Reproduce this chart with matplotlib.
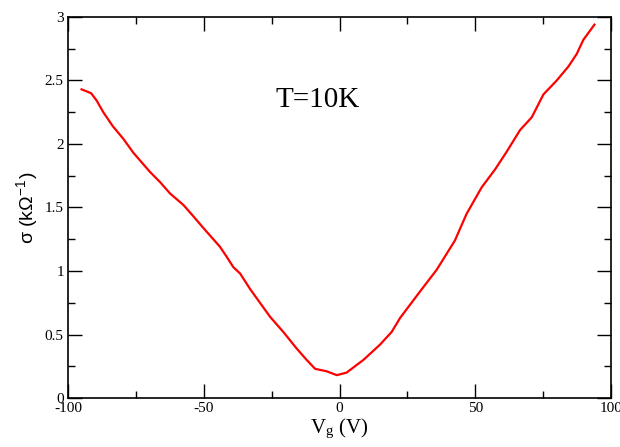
import numpy as np
import matplotlib
matplotlib.use("Agg")
import matplotlib.pyplot as plt
from matplotlib.ticker import MultipleLocator, FormatStrFormatter

# gate voltage (V) and conductivity (kOhm^-1)
VG = [-95, -91.5, -89.4, -87, -83.5, -79.6, -75.9, -69.8, -66.1, -62.4,
      -57.5, -53.8, -50.2, -44, -41.5, -39.1, -36.6, -33, -29.3, -25.6,
      -20.7, -15.8, -12.1, -9.0, -4.7, -1.0, 2.6, 8.8, 14.9, 19.2,
      22.3, 29.7, 35.8, 42.5, 46.8, 52.4, 57.3, 61.6, 66.5, 70.8,
      75.1, 80, 84.3, 87.4, 89.8, 93.9]
SIGMA = [2.43, 2.40, 2.34, 2.25, 2.14, 2.04, 1.93, 1.78, 1.70, 1.61,
         1.52, 1.43, 1.34, 1.19, 1.11, 1.03, 0.98, 0.86, 0.75, 0.64,
         0.52, 0.39, 0.30, 0.23, 0.21, 0.18, 0.20, 0.30, 0.42, 0.52,
         0.63, 0.84, 1.01, 1.24, 1.45, 1.66, 1.80, 1.94, 2.11, 2.21,
         2.39, 2.50, 2.61, 2.71, 2.82, 2.94]

plt.rcParams["font.family"] = ["Liberation Serif", "DejaVu Serif"]
plt.rcParams["mathtext.fontset"] = "stix"
plt.rcParams["axes.unicode_minus"] = False

fig = plt.figure(figsize=(6.2, 4.47), dpi=100)
fig.subplots_adjust(left=0.1097, right=0.9855, top=0.962, bottom=0.1096)
ax = fig.add_subplot(111)

ax.plot(VG, SIGMA, color="#ff0000", lw=1.6)
ax.text(-8, 2.35, "T=10K", fontsize=21, ha="center", va="center")

ax.set_xlim(-100, 100)
ax.set_ylim(0, 3)
ax.xaxis.set_major_locator(MultipleLocator(50))
ax.xaxis.set_minor_locator(MultipleLocator(25))
ax.yaxis.set_major_locator(MultipleLocator(0.5))
ax.yaxis.set_minor_locator(MultipleLocator(0.25))
ax.xaxis.set_major_formatter(FormatStrFormatter("%g"))
ax.yaxis.set_major_formatter(FormatStrFormatter("%g"))
ax.tick_params(which="both", direction="in", top=True, right=True,
               labelsize=11, width=1.0)
ax.tick_params(which="major", length=10, pad=3)
ax.tick_params(which="minor", length=5)
for s in ax.spines.values():
    s.set_linewidth(1.2)

ax.set_xlabel(r"V$_\mathregular{g}$ (V)", fontsize=15, labelpad=1)
ax.set_ylabel(r"σ (kΩ$^{\mathregular{-1}}$)", fontsize=14, labelpad=0,
              family=["Liberation Sans", "DejaVu Sans"])
ax.yaxis.set_label_coords(-0.05, 0.5)

fig.savefig("out.png", dpi=100)
